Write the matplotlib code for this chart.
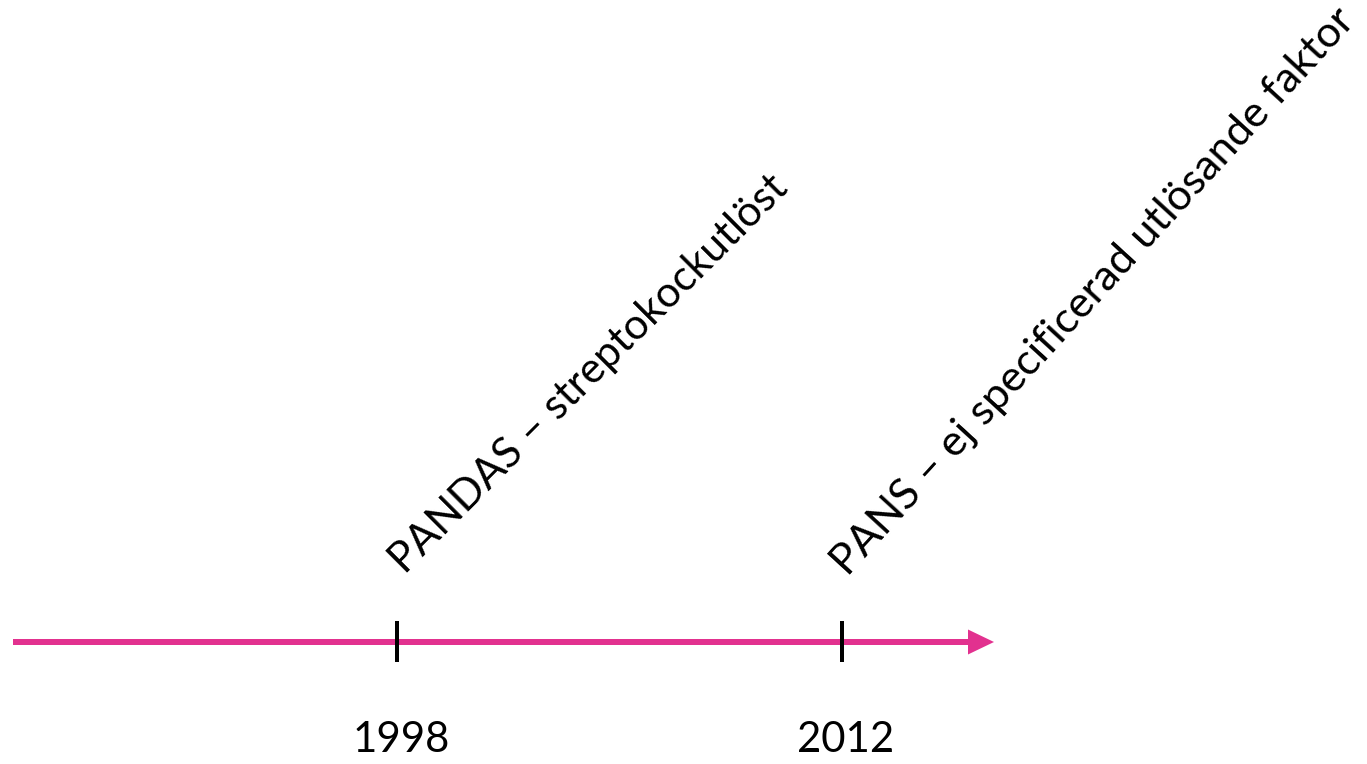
import matplotlib
matplotlib.use('Agg')
import matplotlib.pyplot as plt
from matplotlib.patches import Polygon

# ---- data ----
years = [1998, 2012]
year_labels = ['1998', '2012']
events = ['PANDAS – streptokockutlöst', 'PANS – ej specificerad utlösande faktor']

# ---- layout ----
W, H = 1367, 764
PINK = '#E2318F'
FONT = 'Lato'

fig = plt.figure(figsize=(W / 100, H / 100), dpi=100)
ax = fig.add_axes([0, 0, 1, 1])
px_per_year = (842 - 397) / (years[1] - years[0])
x_start = years[0] - 397 / px_per_year
ax.set_xlim(x_start, x_start + W / px_per_year)
ax.set_ylim(H, 0)
ax.axis('off')


def px(x):
    return x_start + x / px_per_year


# arrow
ax.plot([px(13), px(971)], [642, 642], color=PINK, lw=6 * 0.72,
        solid_capstyle='butt', zorder=1)
ax.add_patch(Polygon([(px(968), 629.5), (px(968), 654.5), (px(994), 642)],
                     closed=True, color=PINK, lw=0, zorder=1))

# ticks
for yr in years:
    ax.plot([yr, yr], [621, 662], color='black', lw=4 * 0.72,
            solid_capstyle='butt', zorder=2)

fig.canvas.draw()
renderer = fig.canvas.get_renderer()


def fit(t, target):
    w = t.get_window_extent(renderer).width
    t.set_fontsize(t.get_fontsize() * target / w)


# year labels
for yr, lab in zip(years, year_labels):
    t = ax.text(yr + 4 / px_per_year, 740, lab, ha='center', va='center',
                fontsize=30, family=FONT, color='black')
    fit(t, 97)

# event labels
ev_offsets = [8, 6]
ev_y = [575, 577]
ev_len = [543, 752]
ev_rot = [45, 47.5]
for yr, ev, dx, y, L, rot in zip(years, events, ev_offsets, ev_y, ev_len, ev_rot):
    t = ax.text(yr + dx / px_per_year, y, ev, ha='left', va='baseline',
                fontsize=30, family=FONT, color='black',
                rotation=0, rotation_mode='anchor')
    fit(t, L)
    t.set_rotation(rot)

fig.savefig('out.png', dpi=100)
